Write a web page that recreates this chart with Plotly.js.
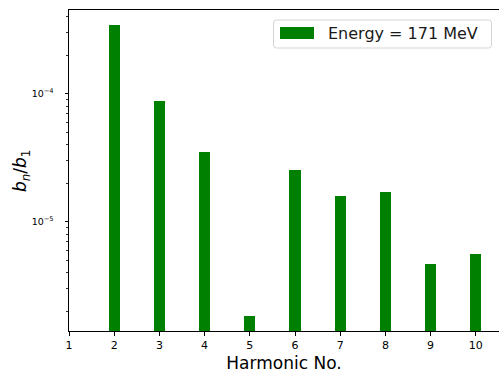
<!DOCTYPE html>
<html>
<head>
<meta charset="utf-8">
<script src="https://cdn.plot.ly/plotly-3.0.1.min.js"></script>
<style>
  html, body { margin: 0; padding: 0; background: #fff; }
  #chart { width: 499px; height: 374px; }
</style>
</head>
<body>
<div id="chart"></div>
<script>
// Harmonic content of the field: b_n / b_1 for n = 2..10
const harmonics = [2, 3, 4, 5, 6, 7, 8, 9, 10];
const ratios = [3.45e-4, 8.86e-5, 3.52e-5, 1.84e-6, 2.54e-5, 1.60e-5, 1.72e-5, 4.73e-6, 5.66e-6];
const seriesName = 'Energy = 171 MeV';
const yLabel = '<i>b</i><sub><i>n</i></sub>/<i>b</i><sub>1</sub>';

// Axis ticks
const xTicks = [1, 2, 3, 4, 5, 6, 7, 8, 9, 10];
const yTickVals = [1e-5, 1e-4];
const yTickText = ['10<sup>\u22125</sup>', '10<sup>\u22124</sup>'];

// Minor ticks at 2..9 of each decade
const yMinor = [];
for (let e = -6; e <= -4; e++) {
  for (let m = 2; m <= 9; m++) yMinor.push(m * Math.pow(10, e));
}

const W = 499, H = 374;
const M = { l: 69, r: 0, t: 10, b: 43 };
const PW = W - M.l - M.r, PH = H - M.t - M.b;
const px = X => (X - M.l) / PW;
const py = Y => (H - M.b - Y) / PH;

// Rounded box path in paper units, from pixel corners
function roundBox(x0, y0, x1, y1, r) {
  const a = px(x0), b = px(x1), c = py(y0), d = py(y1);
  const rx = r / PW, ry = r / PH;
  return `M${a + rx},${c} L${b - rx},${c} Q${b},${c} ${b},${c - ry} ` +
         `L${b},${d + ry} Q${b},${d} ${b - rx},${d} L${a + rx},${d} ` +
         `Q${a},${d} ${a},${d + ry} L${a},${c - ry} Q${a},${c} ${a + rx},${c} Z`;
}

const trace = {
  type: 'bar',
  x: harmonics,
  y: ratios,
  name: seriesName,
  width: 0.25,
  marker: { color: '#008000', line: { width: 0 } },
  showlegend: false
};

const font = 'DejaVu Sans, Verdana, sans-serif';

const layout = {
  width: W, height: H,
  margin: M,
  paper_bgcolor: '#fff',
  plot_bgcolor: '#fff',
  font: { family: font, color: '#000' },
  bargap: 0,
  xaxis: {
    range: [1, 1 + PW / 45.2],
    tickmode: 'array',
    tickvals: xTicks,
    ticktext: xTicks.map(String),
    ticks: 'outside', ticklen: 3.5, tickwidth: 1, tickcolor: '#000',
    showline: true, linecolor: '#000', linewidth: 1, mirror: true,
    showgrid: false, zeroline: false,
    tickfont: { size: 11, family: font, color: '#000' },
    title: { text: 'Harmonic No.', font: { size: 17, family: font, color: '#000' }, standoff: 6 }
  },
  yaxis: {
    type: 'log',
    range: [-5.851, -3.3453],
    tickmode: 'array',
    tickvals: yTickVals,
    ticktext: yTickText,
    ticks: 'outside', ticklen: 3.5, tickwidth: 1, tickcolor: '#000',
    ticklabelstandoff: 9,
    minor: { tickmode: 'array', tickvals: yMinor, ticks: 'outside', ticklen: 2, tickwidth: 0.8, tickcolor: '#000', showgrid: false },
    showline: true, linecolor: '#000', linewidth: 1, mirror: false,
    showgrid: false, zeroline: false,
    tickfont: { size: 9.5, family: font, color: '#000' }
  },
  shapes: [
    {
      type: 'path', xref: 'paper', yref: 'paper', layer: 'above',
      path: roundBox(273.5, 20, 491.5, 48, 3),
      fillcolor: 'rgba(255,255,255,0.8)',
      line: { color: '#d5d5d5', width: 1 }
    },
    {
      type: 'rect', xref: 'paper', yref: 'paper', layer: 'above',
      x0: px(280), x1: px(314), y0: py(39), y1: py(27),
      fillcolor: '#008000', line: { width: 0 }
    }
  ],
  annotations: [
    {
      xref: 'paper', yref: 'paper',
      x: px(326), y: py(33.5), xanchor: 'left', yanchor: 'middle',
      text: seriesName, showarrow: false,
      font: { size: 16, family: font, color: '#1a1a1a' }
    },
    {
      xref: 'paper', yref: 'paper',
      x: px(22), y: py(171), xanchor: 'center', yanchor: 'middle',
      textangle: -90,
      text: yLabel, showarrow: false,
      font: { size: 17, family: font, color: '#000' }
    }
  ]
};

Plotly.newPlot('chart', [trace], layout, { displayModeBar: false, staticPlot: true });
</script>
</body>
</html>
